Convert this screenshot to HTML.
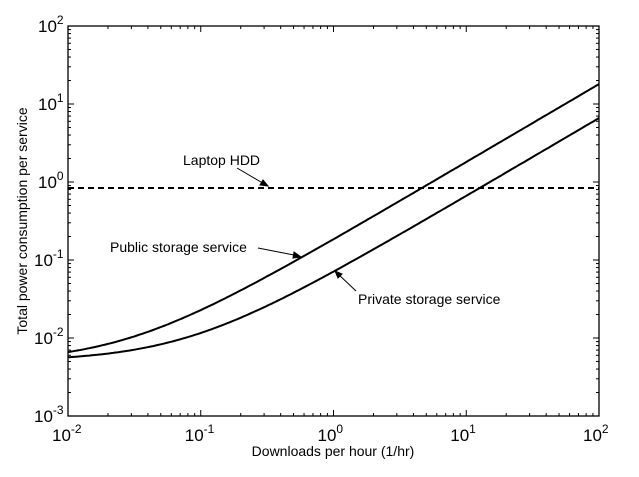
<!DOCTYPE html>
<html><head><meta charset="utf-8"><style>
body{margin:0;background:#fff}
svg{display:block;font-family:"Liberation Sans",Arial,sans-serif}
</style></head><body>
<svg id="s" width="639" height="477" viewBox="0 0 639 477" xmlns="http://www.w3.org/2000/svg">
<rect width="639" height="477" fill="#fff"/>
<g id="ticks" stroke="#000" stroke-width="1"></g>
<rect x="68" y="26" width="531" height="390" fill="none" stroke="#000" stroke-width="1.3"/>
<line x1="68" y1="188" x2="599" y2="188" stroke="#000" stroke-width="2" stroke-dasharray="6,4"/>
<path id="pub" fill="none" stroke="#000" stroke-width="2"/>
<path id="pri" fill="none" stroke="#000" stroke-width="2"/>
<g font-size="14" fill="#000">
<text x="183" y="165">Laptop HDD</text>
<text x="110" y="252">Public storage service</text>
<text x="358" y="304">Private storage service</text>
<text x="333" y="456" text-anchor="middle">Downloads per hour (1/hr)</text>
<text transform="translate(27,221) rotate(-90)" text-anchor="middle">Total power consumption per service</text>
</g>
<g stroke="#000" stroke-width="1" fill="#000">
<line x1="237" y1="168" x2="266" y2="185"/><path d="M268,186 l-8,-1 l3,-5 z"/>
<line x1="258" y1="248" x2="299" y2="256"/><path d="M301,257 l-8,1 l1,-6 z"/>
<line x1="356" y1="291" x2="337" y2="273"/><path d="M335,271 l7,3 l-4,4 z"/>
</g>
<g id="lbl" font-size="17" fill="#000"></g>
</svg>
<script>
var X=function(v){return 68+(Math.log10(v)+2)*132.75},Y=function(v){return 416-(Math.log10(v)+3)*78};
function path(a,b){var d="";for(var i=0;i<=200;i++){var x=Math.pow(10,-2+4*i/200);d+=(i?"L":"M")+X(x).toFixed(1)+","+Y(a+b*x).toFixed(1)}return d}
document.getElementById("pub").setAttribute("d",path(0.0048,0.18));
document.getElementById("pri").setAttribute("d",path(0.005,0.066));
var t="",l="";
for(var e=-2;e<2;e++)for(var m=1;m<10;m++){var x=X(m*Math.pow(10,e)),L=m==1?6:3;if(m==1&&e==-2)continue;t+='<line x1="'+x+'" y1="416" x2="'+x+'" y2="'+(416-L)+'"/><line x1="'+x+'" y1="26" x2="'+x+'" y2="'+(26+L)+'"/>';}
for(var e=-3;e<2;e++)for(var m=1;m<10;m++){var y=Y(m*Math.pow(10,e)),L=m==1?6:3;if(m==1&&e==-3)continue;t+='<line x1="68" y1="'+y+'" x2="'+(68+L)+'" y2="'+y+'"/><line x1="599" y1="'+y+'" x2="'+(599-L)+'" y2="'+y+'"/>';}
document.getElementById("ticks").innerHTML=t;
for(var e=-2;e<=2;e++){var x=X(Math.pow(10,e));l+='<text x="'+(x-16)+'" y="441">10<tspan font-size="12" dy="-8">'+e+'</tspan></text>';}
for(var e=-3;e<=2;e++){var y=Y(Math.pow(10,e));l+='<text x="'+(e<0?34:38)+'" y="'+(y+6)+'">10<tspan font-size="12" dy="-8">'+e+'</tspan></text>';}
document.getElementById("lbl").innerHTML=l;
</script>
</body></html>
